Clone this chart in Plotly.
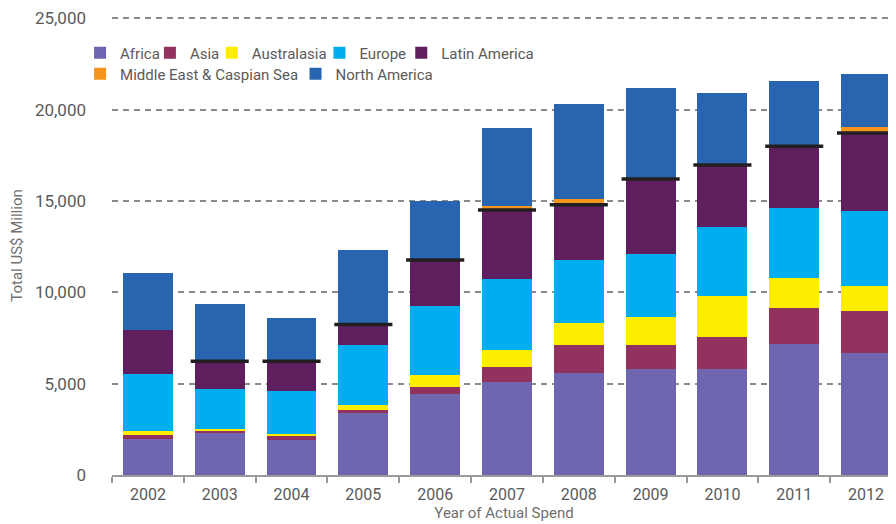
import plotly.graph_objects as go

years = ["2002", "2003", "2004", "2005", "2006", "2007", "2008", "2009", "2010", "2011", "2012"]

africa        = [1970, 2290, 1910, 3380, 4420, 5080, 5570, 5790, 5790, 7150, 6660]
asia          = [220, 110, 220, 165, 380, 820, 1530, 1310, 1750, 1970, 2290]
australasia   = [215, 110, 110, 275, 655, 925, 1200, 1525, 2240, 1635, 1420]
europe        = [3110, 2185, 2345, 3275, 3770, 3875, 3490, 3495, 3820, 3880, 4095]
latin_america = [2400, 1530, 1640, 1130, 2545, 3820, 3000, 4080, 3370, 3360, 4220]
middle_east   = [0, 0, 0, 0, 0, 220, 330, 0, 0, 0, 365]
north_america = [3165, 3110, 2345, 4110, 3240, 4255, 5185, 4980, 3940, 3570, 2895]
benchmark     = [None, 6225, 6225, 8240, 11770, 14500, 14795, 16195, 16960, 17995, 18720]

names  = ["Africa", "Asia", "Australasia", "Europe", "Latin America",
          "Middle East & Caspian Sea", "North America"]
values = [africa, asia, australasia, europe, latin_america, middle_east, north_america]
colors = ["#6E67AF", "#93325F", "#FFED00", "#00AEEF", "#5F1F5F", "#F7941D", "#2765B0"]

# legend placement (pixels in figure coordinates: swatch left, row centre)
leg_x_px = [84, 154, 216, 324, 406, 84, 300]
leg_y_px = [44, 44, 44, 44, 44, 65, 65]

FONT = "Roboto"
YMAX = 25120
W, H = 888, 516
ML, MR, MB = 102, 0, 49
MT = 9 - 458 * (YMAX / 25000 - 1)
PW, PH = W - ML - MR, H - MT - MB

fig = go.Figure()
legend_layouts = {}
for i, (name, vals, color) in enumerate(zip(names, values, colors)):
    lg = "legend" if i == 0 else f"legend{i + 1}"
    fig.add_trace(go.Bar(x=years, y=vals, name=name, legend=lg,
                         marker=dict(color=color, line=dict(width=0))))
    legend_layouts[lg] = dict(
        orientation="h", xanchor="left", yanchor="middle",
        x=(leg_x_px[i] - 14 - ML) / PW, y=(MT + PH - leg_y_px[i]) / PH,
        font=dict(family=FONT, size=15, color="#5a5a5a"),
        bgcolor="rgba(0,0,0,0)", itemclick=False)

fig.add_trace(go.Scatter(x=years, y=benchmark, mode="markers", showlegend=False,
                         marker=dict(symbol="line-ew", size=41.5,
                                     line=dict(color="#231F20", width=3.5))))

fig.update_layout(
    width=W, height=H,
    margin=dict(l=ML, r=MR, t=MT, b=MB),
    barmode="stack", bargap=0.305,
    plot_bgcolor="white", paper_bgcolor="white",
    font=dict(family=FONT, size=16, color="#5a5a5a"),
    xaxis=dict(type="category", range=[-0.5, 10.417],
               showline=True, linecolor="#9a9a9a", linewidth=2,
               ticks="outside", tickson="boundaries", ticklen=6, tickcolor="#9a9a9a", tickwidth=2,
               showgrid=False, ticklabelstandoff=4,
               tickfont=dict(family=FONT, size=16, color="#5a5a5a"),
               title=dict(text="Year of Actual Spend", standoff=4,
                          font=dict(family=FONT, size=15, color="#707070"))),
    yaxis=dict(range=[0, YMAX], dtick=5000, tickformat=",",
               showline=False, zeroline=False, ticklabeloverflow="allow",
               showgrid=True, gridcolor="#8a8a8a", gridwidth=1.6, griddash="6px,5px",
               ticks="", ticklabelstandoff=25,
               tickfont=dict(family=FONT, size=17, color="#5a5a5a"),
               title=dict(text="Total US$ Million", standoff=16,
                          font=dict(family=FONT, size=15, color="#707070"))),
    **legend_layouts,
)

fig.write_html("out.html")
